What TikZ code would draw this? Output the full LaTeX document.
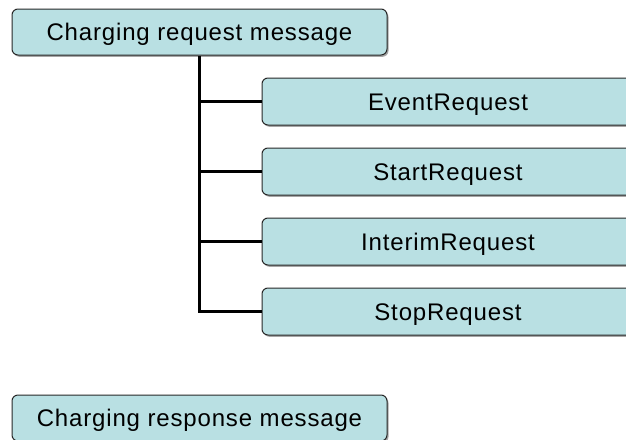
\documentclass[tikz,border=0pt]{standalone}
\usepackage{fontspec}
\setmainfont{Liberation Sans}[LetterSpace=3.5]
\usetikzlibrary{shadows}
\definecolor{boxfill}{RGB}{185,224,227}
\definecolor{boxline}{RGB}{40,40,40}
\begin{document}
\begin{tikzpicture}[x=1pt,y=-1pt,
  msgbox/.style={draw=boxline, line width=1pt, fill=boxfill, rounded corners=6pt,
    inner sep=0pt, font=\fontsize{24}{28}\selectfont, text height=17.2pt, text depth=0pt,
    general shadow={shadow xshift=1.5pt, shadow yshift=-1.8pt, fill=black!35}},
  link/.style={line width=2.4pt, black}]
\useasboundingbox (0,0) rectangle (626,439);
\node[msgbox, minimum width=375pt, minimum height=46pt] (req) at (199.5,32) {Charging request message};
\node[msgbox, minimum width=372pt, minimum height=47pt] (ev) at (448,101.5) {EventRequest};
\node[msgbox, minimum width=372pt, minimum height=47pt] (st) at (448,171.5) {StartRequest};
\node[msgbox, minimum width=372pt, minimum height=47pt] (im) at (448,241.5) {InterimRequest};
\node[msgbox, minimum width=372pt, minimum height=47pt] (sp) at (448,311.5) {StopRequest};
\node[msgbox, minimum width=375pt, minimum height=46pt] (resp) at (199.5,418) {Charging response message};
\draw[link] (req.south) |- (sp.west);
\draw[link] (req.south |- ev.west) -- (ev.west);
\draw[link] (req.south |- st.west) -- (st.west);
\draw[link] (req.south |- im.west) -- (im.west);
\end{tikzpicture}
\end{document}
